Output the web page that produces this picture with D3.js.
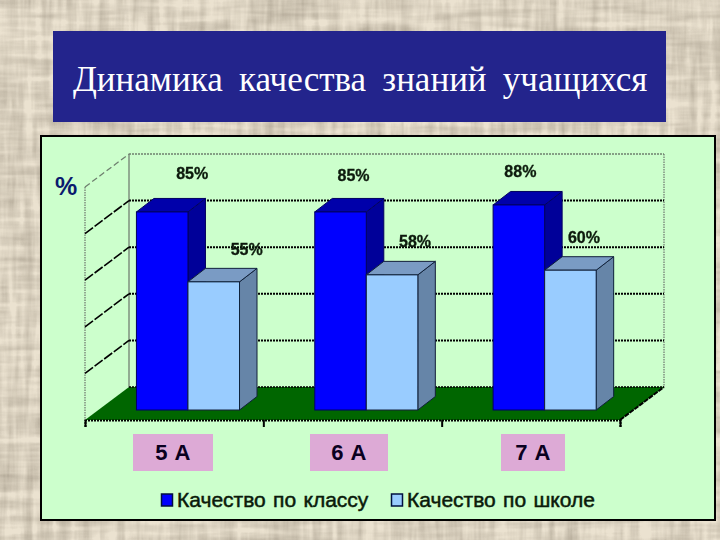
<!DOCTYPE html>
<html><head><meta charset="utf-8">
<script src="https://cdn.jsdelivr.net/npm/d3@7"></script>
<style>html,body{margin:0;padding:0;background:#d8ccb6}svg{display:block}</style>
</head><body>
<svg id="c" width="720" height="540"></svg>
<script>
const titleText = "Динамика качества знаний учащихся";
const unitText = "%";
const categories = ["5 А","6 А","7 А"];
const seriesNames = ["Качество по классу","Качество по школе"];
const classValues = [85,85,88];
const schoolValues = [55,58,60];
const gridTicks = [0,20,40,60,80,100];

const L = {left:85,right:620,front:420,depthX:44,depthY:33,h:233,barDX:13.8,barDY:10,barDepthX:17.5,barDepthY:13.5};
const colors = [
 {front:"#0000ff",side:"#000099",top:"#0000aa",edge:"#000060"},
 {front:"#99ccff",side:"#6685a8",top:"#7a9bc4",edge:"#10203a"}];
const labelNudge = [[[30,-32.5],[33,-26.5]],[[13,-30.5],[23,-27.5]],[[1.5,-27.5],[13.5,-27.5]]];
const chips = [[133,213],[310,388],[501,565]];

const svg = d3.select("#c");
const defs = svg.append("defs");
const f = defs.append("filter").attr("id","linen").attr("x",0).attr("y",0).attr("width","100%").attr("height","100%");
f.append("feTurbulence").attr("type","fractalNoise").attr("baseFrequency","0.012 0.11").attr("numOctaves",3).attr("seed",4).attr("result","a");
f.append("feTurbulence").attr("type","fractalNoise").attr("baseFrequency","0.12 0.014").attr("numOctaves",3).attr("seed",9).attr("result","b");
f.append("feComposite").attr("in","a").attr("in2","b").attr("operator","arithmetic").attr("k1",0).attr("k2",.5).attr("k3",.5).attr("k4",0).attr("result","m");
f.append("feColorMatrix").attr("in","m").attr("type","matrix").attr("values","0 0 0 0 .42  0 0 0 0 .37  0 0 0 0 .29  1.9 0 0 0 -0.66");
f.append("feGaussianBlur").attr("stdDeviation",.6);
const soft = defs.append("filter").attr("id","soft");
soft.append("feGaussianBlur").attr("stdDeviation",.35);

svg.append("rect").attr("width",720).attr("height",540).attr("fill","#ebe2d0");
svg.append("rect").attr("width",720).attr("height",540).attr("fill","#000").attr("filter","url(#linen)");

svg.append("rect").attr("x",53).attr("y",31).attr("width",613).attr("height",91).attr("fill","#23248c");
svg.append("text").attr("x",73).attr("y",91).attr("fill","#fff")
 .attr("font-family","'Liberation Serif'").attr("font-size",35).attr("word-spacing",7.5).text(titleText);

svg.append("rect").attr("x",41).attr("y",136).attr("width",674).attr("height",384).attr("fill","#ccffcc").attr("stroke","#000").attr("stroke-width",2);

const g = svg.append("g").attr("filter","url(#soft)");
const y = d3.scaleLinear().domain([0,100]).range([0,L.h]);
const x0 = d3.scaleBand().domain(categories).range([L.left,L.right]);
const x1 = d3.scaleBand().domain(seriesNames).range([0,x0.bandwidth()]).paddingInner(0).paddingOuter(.73);
const poly = pts => pts.map(p=>p.join(",")).join(" ");
const backBase = L.front-L.depthY, bx = L.left+L.depthX, bxR = L.right+L.depthX;

// floor
g.append("polygon").attr("points",poly([[L.left,L.front],[bx,backBase],[bxR,backBase],[L.right,L.front]])).attr("fill","#006600");
g.append("line").attr("x1",L.right).attr("y1",L.front).attr("x2",bxR).attr("y2",backBase).attr("stroke","#000").attr("stroke-width",2).attr("stroke-dasharray","5 1");
// walls' edges
g.append("line").attr("x1",bx).attr("x2",bx).attr("y1",backBase-L.h).attr("y2",backBase).attr("stroke","#7f907f").attr("stroke-width",1.5);
g.append("line").attr("x1",bxR).attr("x2",bxR).attr("y1",backBase-L.h).attr("y2",backBase).attr("stroke","#7f907f").attr("stroke-width",1.5).attr("stroke-dasharray","1.5 1");
g.append("line").attr("x1",L.left).attr("x2",L.left).attr("y1",L.front-L.h).attr("y2",L.front).attr("stroke","#7f907f").attr("stroke-width",1.5).attr("stroke-dasharray","1.5 1");
// grid
gridTicks.forEach(t=>{
  const yy = backBase-y(t);
  const dark = t>0 && t<100;
  if(t>0){
    g.append("line").attr("x1",bx).attr("x2",bxR).attr("y1",yy).attr("y2",yy)
     .attr("stroke",dark?"#000":"#6f806f").attr("stroke-width",dark?2:1.5).attr("stroke-dasharray","2 1");
    g.append("line").attr("x1",L.left).attr("y1",yy+L.depthY).attr("x2",bx).attr("y2",yy)
     .attr("stroke",dark?"#000":"#6f806f").attr("stroke-width",dark?1.6:1.3).attr("stroke-dasharray",dark?"10 2":"6 3");
  }else{
    g.append("line").attr("x1",bx).attr("x2",bxR).attr("y1",yy).attr("y2",yy).attr("stroke","#000").attr("stroke-width",1.5).attr("stroke-dasharray","2 1");
  }
});
// axis
g.append("g").attr("transform",`translate(0,${L.front})`)
 .call(d3.axisBottom(d3.scaleLinear().domain([0,3]).range([L.left,L.right])).tickValues([0,1,2,3]).tickSize(7).tickFormat(""))
 .call(a=>{a.select(".domain").attr("stroke-width",2).attr("stroke-dasharray","2 1");a.selectAll("line").attr("stroke-width",2);});

// bars
const barBase = L.front-L.barDY;
const bars = [];
categories.forEach((c,i)=>{
  seriesNames.forEach((s,j)=>bars.push({c,i,j,s,v:(j?schoolValues:classValues)[i]}));
});
const bg = g.selectAll("g.bar").data(bars).join("g").attr("class","bar");
bg.each(function(d){
  const sel = d3.select(this), col = colors[d.j];
  const xl = x0(d.c)+x1(d.s)+L.barDX, w = x1.bandwidth(), top = barBase-y(d.v);
  const dx=L.barDepthX, dy=L.barDepthY;
  sel.append("polygon").attr("points",poly([[xl+w,barBase],[xl+w+dx,barBase-dy],[xl+w+dx,top-dy],[xl+w,top]])).attr("fill",col.side).attr("stroke",col.edge).attr("stroke-width",1);
  sel.append("polygon").attr("points",poly([[xl,top],[xl+dx,top-dy],[xl+w+dx,top-dy],[xl+w,top]])).attr("fill",col.top).attr("stroke",col.edge).attr("stroke-width",1);
  sel.append("rect").attr("x",xl).attr("y",top).attr("width",w).attr("height",y(d.v)).attr("fill",col.front).attr("stroke",col.edge).attr("stroke-width",1);
});
// value labels
g.selectAll("text.val").data(bars).join("text").attr("class","val")
 .attr("x",d=>x0(d.c)+x1(d.s)+L.barDX+x1.bandwidth()/2+labelNudge[d.i][d.j][0])
 .attr("y",d=>barBase-y(d.v)+labelNudge[d.i][d.j][1])
 .attr("text-anchor","middle").attr("font-family","'Liberation Sans'").attr("font-weight","bold").attr("font-size",16).attr("fill","#0a1a0a").attr("stroke","#0a1a0a").attr("stroke-width",.3)
 .text(d=>d.v+"%");

svg.append("text").attr("x",66).attr("y",195).attr("text-anchor","middle").attr("font-family","'Liberation Sans'").attr("font-weight","bold").attr("font-size",25).attr("fill","#0a1a6e").text(unitText);

// category chips
const chip = svg.selectAll("g.chip").data(categories).join("g").attr("class","chip");
chip.append("rect").attr("x",(d,i)=>chips[i][0]).attr("width",(d,i)=>chips[i][1]-chips[i][0]).attr("y",434).attr("height",37).attr("fill","#ddaad6");
chip.append("text").attr("x",(d,i)=>(chips[i][0]+chips[i][1])/2).attr("y",460).attr("text-anchor","middle")
 .attr("font-family","'Liberation Sans'").attr("font-weight","bold").attr("font-size",22).attr("letter-spacing",.5).attr("fill","#0a0020").text(d=>d);

// legend
const lx=[161,391], tx=[177,407];
seriesNames.forEach((s,j)=>{
  svg.append("rect").attr("x",lx[j]+.5).attr("y",494).attr("width",11).attr("height",12).attr("fill",colors[j].front).attr("stroke","#001040").attr("stroke-width",1.5);
  svg.append("text").attr("x",tx[j]).attr("y",507).attr("font-family","'Liberation Sans'").attr("font-size",21).attr("word-spacing",1.5).attr("fill","#0a1a0a").attr("stroke","#0a1a0a").attr("stroke-width",.5).text(s);
});
</script>
</body></html>
